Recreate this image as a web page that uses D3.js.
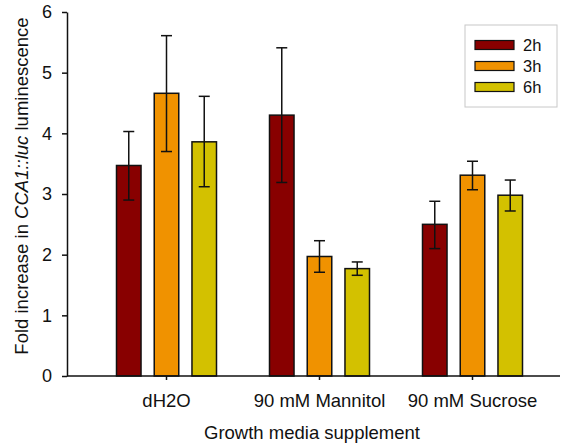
<!DOCTYPE html>
<html>
<head>
<meta charset="utf-8">
<script src="https://cdn.jsdelivr.net/npm/d3@7"></script>
<style>
  body { margin: 0; background: #fff; }
  svg text { font-family: "Liberation Sans", Arial, sans-serif; fill: #111; }
</style>
</head>
<body>
<svg width="561" height="445"></svg>
<script>
var categories = ["dH2O", "90 mM Mannitol", "90 mM Sucrose"];
var series = ["2h", "3h", "6h"];
var colors = ["#880000", "#F09200", "#D3C100"];
// valori medi e barre d'errore (alto/basso) per serie
var means = [[3.47, 4.30, 2.50], [4.66, 1.97, 3.31], [3.86, 1.77, 2.98]];
var errHigh = [[4.03, 5.41, 2.88], [5.61, 2.23, 3.54], [4.61, 1.88, 3.23]];
var errLow = [[2.90, 3.19, 2.10], [3.70, 1.71, 3.07], [3.12, 1.66, 2.72]];
var yTicks = [0, 1, 2, 3, 4, 5, 6];

var svg = d3.select("svg");

// Scala y
var yScale = d3.scaleLinear().domain([0, 6]).range([376, 12]);

// Scala per le categorie
var xScale = d3.scaleBand().domain(categories).range([90, 549]).padding(0);

// Scala per le serie dentro ogni gruppo
var xSub = d3.scaleBand().domain(series).range([-50, 50]).paddingInner(0.35).paddingOuter(0);

var data = [];
series.forEach(function (s, si) {
    categories.forEach(function (c, ci) {
        data.push({ cat: c, s: s, si: si, v: means[si][ci], hi: errHigh[si][ci], lo: errLow[si][ci] });
    });
});

// barre
svg.selectAll("rect.bar")
    .data(data)
    .enter()
    .append("rect")
    .attr("class", "bar")
    .attr("x", function (d) { return xScale(d.cat) + xScale.bandwidth() / 2 + xSub(d.s); })
    .attr("y", function (d) { return yScale(d.v); })
    .attr("width", xSub.bandwidth())
    .attr("height", function (d) { return yScale(0) - yScale(d.v); })
    .attr("fill", function (d) { return colors[d.si]; })
    .attr("stroke", "#111")
    .attr("stroke-width", 1.5);

// barre d'errore
var errs = svg.selectAll("g.err")
    .data(data)
    .enter()
    .append("g")
    .attr("class", "err")
    .attr("transform", function (d) {
        return "translate(" + (xScale(d.cat) + xScale.bandwidth() / 2 + xSub(d.s) + xSub.bandwidth() / 2) + ",0)";
    });

errs.append("line")
    .attr("x1", 0).attr("x2", 0)
    .attr("y1", function (d) { return yScale(d.hi); })
    .attr("y2", function (d) { return yScale(d.lo); })
    .attr("stroke", "#111").attr("stroke-width", 1.5);

errs.append("line")
    .attr("x1", -5.5).attr("x2", 5.5)
    .attr("y1", function (d) { return yScale(d.hi); })
    .attr("y2", function (d) { return yScale(d.hi); })
    .attr("stroke", "#111").attr("stroke-width", 1.5);

errs.append("line")
    .attr("x1", -5.5).attr("x2", 5.5)
    .attr("y1", function (d) { return yScale(d.lo); })
    .attr("y2", function (d) { return yScale(d.lo); })
    .attr("stroke", "#111").attr("stroke-width", 1.5);

// asse y
var yAxis = svg.append("g")
    .attr("transform", "translate(67,0)")
    .call(d3.axisLeft(yScale).tickValues(yTicks).tickFormat(d3.format("d")).tickSize(5).tickPadding(10).tickSizeOuter(0));
yAxis.selectAll("text").style("font-size", "18px");
yAxis.selectAll("line, path").attr("stroke", "#111").attr("stroke-width", 1.5);

// asse x
var xAxis = svg.append("g")
    .attr("transform", "translate(0,376)")
    .call(d3.axisBottom(xScale).tickSize(4).tickPadding(14).tickSizeOuter(0));
xAxis.select("path.domain").attr("d", "M67,0H560");
xAxis.selectAll("text").style("font-size", "18.5px");
xAxis.selectAll("line, path").attr("stroke", "#111").attr("stroke-width", 1.5);

// titoli assi
svg.append("text")
    .attr("x", 312)
    .attr("y", 439)
    .attr("text-anchor", "middle")
    .style("font-size", "18.5px")
    .text("Growth media supplement");

var yTitle = svg.append("text")
    .attr("transform", "translate(28,186) rotate(-90)")
    .attr("text-anchor", "middle")
    .style("font-size", "18.5px");
yTitle.append("tspan").text("Fold increase in ");
yTitle.append("tspan").style("font-style", "italic").text("CCA1::luc");
yTitle.append("tspan").text(" luminescence");

// legenda
var legend = svg.append("g").attr("transform", "translate(465,25)");
legend.append("rect")
    .attr("width", 92).attr("height", 82)
    .attr("fill", "#fff")
    .attr("stroke", "#c8c8c8").attr("stroke-width", 1);

var items = legend.selectAll("g.item")
    .data(series)
    .enter()
    .append("g")
    .attr("class", "item")
    .attr("transform", function (d, i) { return "translate(10," + (20 + i * 21) + ")"; });

items.append("rect")
    .attr("x", 0).attr("y", -4.5)
    .attr("width", 39).attr("height", 9)
    .attr("fill", function (d, i) { return colors[i]; })
    .attr("stroke", "#111").attr("stroke-width", 1.2);

items.append("text")
    .attr("x", 48).attr("y", 6)
    .style("font-size", "16.5px")
    .text(function (d) { return d; });
</script>
</body>
</html>
